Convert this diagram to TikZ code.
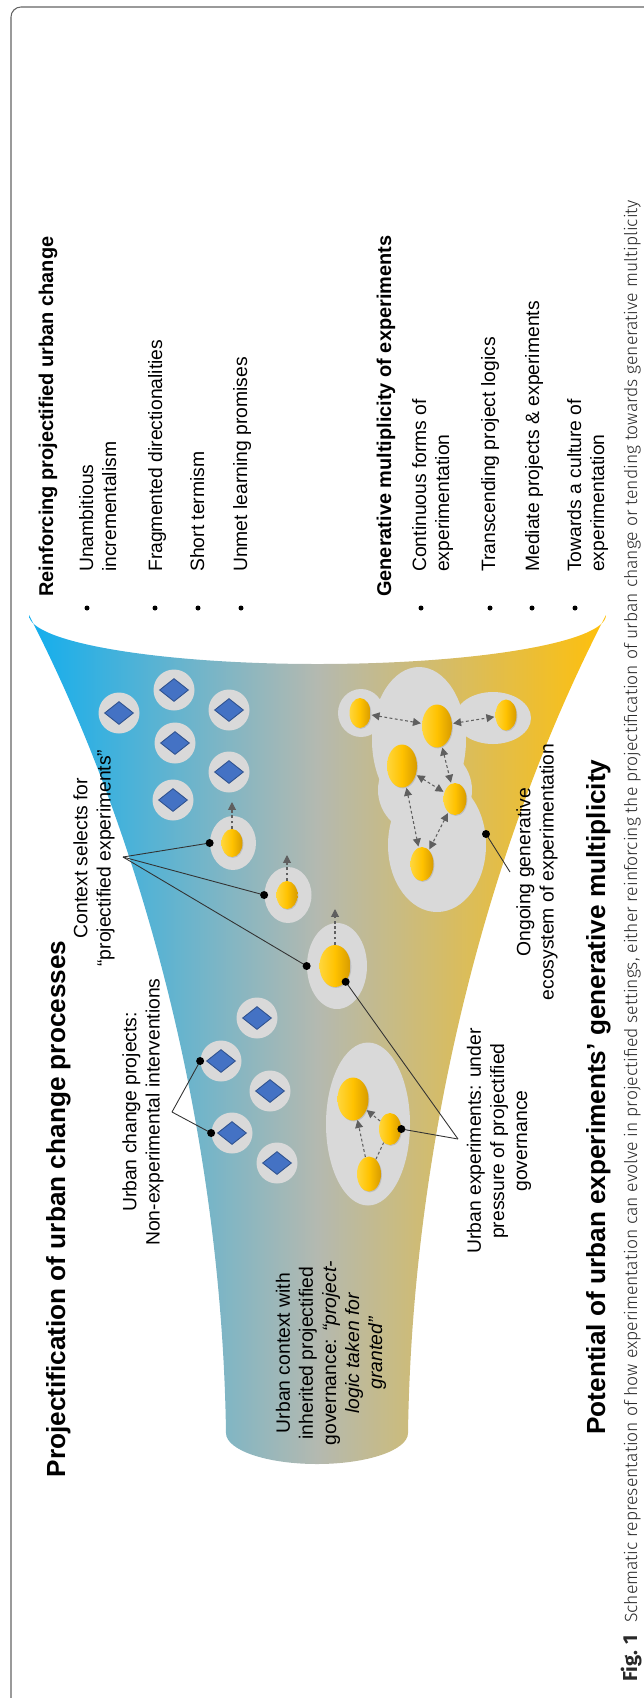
\documentclass[tikz,border=0pt]{standalone}
\usepackage{fontspec}
\setmainfont{Liberation Sans}
\newfontfamily\capfont{Fira Sans Light}
\newfontfamily\capbold{Fira Sans}
\usetikzlibrary{positioning,arrows.meta,shapes.geometric,shadows}

\definecolor{funblue}{RGB}{18,174,238}
\definecolor{funmid}{RGB}{180,185,176}
\definecolor{funorange}{RGB}{255,192,10}
\definecolor{halogray}{RGB}{217,217,217}
\definecolor{projblue}{RGB}{68,114,196}
\definecolor{projline}{RGB}{47,82,143}
\definecolor{expl}{RGB}{255,214,60}
\definecolor{expm}{RGB}{255,194,0}
\definecolor{expr}{RGB}{215,155,0}
\definecolor{flowgray}{RGB}{95,95,95}
\definecolor{ptrgray}{RGB}{50,50,50}
\definecolor{framegray}{RGB}{100,100,100}
\definecolor{capgray}{RGB}{40,40,40}

\begin{document}
\begin{tikzpicture}[x=0.02cm,y=-0.02cm,
    halo/.style={circle,fill=halogray,minimum size=41*0.02cm,inner sep=0},
    haloe/.style 2 args={ellipse,fill=halogray,minimum width=#1*0.02cm,minimum height=#2*0.02cm,inner sep=0},
    proj/.style={diamond,draw=projline,fill=projblue,line width=0.5pt,minimum width=29*0.02cm,minimum height=23*0.02cm,inner sep=0},
    expt/.style 2 args={ellipse,left color=expl,right color=expr,middle color=expm,minimum width=#1*0.02cm,minimum height=#2*0.02cm,inner sep=0,
        drop shadow={shadow xshift=0.5pt,shadow yshift=-0.5pt,opacity=0.3}},
    flowline/.style={draw=flowgray,line width=0.6pt,dash pattern=on 1.6pt off 1.4pt},
    flowarr/.style={flowline,-{Triangle[length=4.5pt,width=4.5pt]}},
    flowtwo/.style={flowline,{Triangle[length=4.5pt,width=4.5pt]}-{Triangle[length=4.5pt,width=4.5pt]},shorten <=0.5pt,shorten >=0.5pt},
    ptr/.style={draw=ptrgray,line width=0.5pt},
    pdot/.style={circle,fill=black,minimum size=8*0.02cm,inner sep=0},
    bul/.style={circle,fill=black,minimum size=5*0.02cm,inner sep=0},
    lbl/.style={rotate=90,align=center,font=\fontsize{11}{13.1}\selectfont},
    bitem/.style={rotate=90,anchor=base west,font=\fontsize{11}{13.1}\selectfont},
    bhead/.style={rotate=90,anchor=base west,font=\fontsize{11.35}{14}\selectfont\bfseries},
    ttl/.style={rotate=90,anchor=base,font=\fontsize{14.9}{18}\selectfont\bfseries}]

    \useasboundingbox (0,0) rectangle (643,1698);

    % Frame
    \draw[framegray,line width=0.6pt,rounded corners=0.2cm] (11,1740) -- (11,7) -- (720,7);

    % Funnel
    \shade[left color=funblue,right color=funorange,middle color=funmid]
        (29,615) arc[start angle=180,end angle=0,x radius=288.5,y radius=49]
        .. controls (484,850) and (412,1150) .. (408,1433)
        arc[start angle=0,end angle=180,x radius=91,y radius=31]
        .. controls (222,1150) and (150,850) .. (29,615) -- cycle;

    % Urban change projects
    \foreach \x/\y [count=\i] in {119/713,174/690,229/710,175/743,229/772,173/800,
                                   257/1018,221/1061,270/1091,232/1133,277/1163}{
        \node[halo] (ph\i) at (\x,\y) {};
        \node[proj] (pj\i) at (\x,\y) {};
    }

    % Projectified experiments
    \node[haloe={46}{54}] (haloA) at (233,843) {};
    \node[haloe={47}{56}] (haloB) at (288,895) {};
    \node[haloe={60}{86}] (haloC) at (337,966) {};
    \node[expt={21}{28}] (a) at (232,843) {};
    \node[expt={21}{28}] (b) at (287,895) {};
    \node[expt={31}{42}] (c) at (335,966) {};
    \coordinate (aup) at (232,802);
    \coordinate (bup) at (287,855);
    \coordinate (cup) at (335,909);
    \draw[flowarr] (a) -- (aup);
    \draw[flowarr] (b) -- (bup);
    \draw[flowarr] (c) -- (cup);

    % Experiments under pressure
    \node[haloe={84}{163}] (haloP) at (368,1124) {};
    \node[expt={31}{43}] (p1) at (353,1099) {};
    \node[expt={22}{32}] (p2) at (390,1129) {};
    \node[expt={24}{35}] (p3) at (369,1174) {};
    \draw[flowarr] (p3) -- (p1);
    \draw[flowarr] (p2) -- (p1);
    \draw[flowline] (p3) -- (p2);

    % Generative ecosystem
    \fill[halogray] (419,740) ellipse[x radius=47,y radius=73];
    \fill[halogray] (425,790) ellipse[x radius=47,y radius=45];
    \fill[halogray] (437,845) ellipse[x radius=49,y radius=67];
    \fill[halogray] (361,713) ellipse[x radius=23,y radius=24];
    \fill[halogray] (493,718) ellipse[x radius=38,y radius=26];
    \node[expt={21}{30}] (e1) at (360,713) {};
    \node[expt={30}{43}] (e2) at (437,726) {};
    \node[expt={21}{31}] (e3) at (506,715) {};
    \node[expt={30}{43}] (e4) at (402,766) {};
    \node[expt={23}{32}] (e5) at (455,799) {};
    \node[expt={23}{34}] (e6) at (422,864) {};
    \draw[flowtwo] (e1) -- (e2);
    \draw[flowtwo] (e2) -- (e3);
    \draw[flowtwo] (e2) -- (e5);
    \draw[flowtwo] (e4) -- (e5);
    \draw[flowtwo] (e4) -- (e6);
    \draw[flowtwo] (e5) -- (e6);

    % Pointers
    \coordinate (ctxpt) at (123,857);
    \coordinate (ucppt) at (172,1112);
    \coordinate (uexpt) at (458,1139);
    \coordinate (ecopt) at (510,872);
    \coordinate (ecodot) at (486,834);
    \draw[ptr] (ctxpt) -- (haloA.west);
    \draw[ptr] (ctxpt) -- (haloB.west);
    \draw[ptr] (ctxpt) -- (haloC.west);
    \draw[ptr] (ucppt) -- (ph8.west);
    \draw[ptr] (ucppt) -- (ph10.west);
    \draw[ptr] (uexpt) -- (c.-56);
    \draw[ptr] (uexpt) -- (p2.east);
    \draw[ptr] (ecopt) -- (ecodot);
    \node[pdot] (dA) at (haloA.west) {};
    \node[pdot] (dB) at (haloB.west) {};
    \node[pdot] (dC) at (haloC.west) {};
    \node[pdot] (d8) at (ph8.west) {};
    \node[pdot] (d10) at (ph10.west) {};
    \node[pdot] (dc) at (c.-56) {};
    \node[pdot] (dp) at (p2.east) {};
    \node[pdot] (de) at (ecodot) {};

    % Labels in the funnel
    \node[lbl] (ctx) at (94,858) {Context selects for\\``projectified experiments''};
    \node[lbl] (ucp) at (143,1112) {Urban change projects:\\Non-experimental interventions};
    \node[lbl] (uctx) at (331,1353) {Urban context with\\inherited projectified\\governance: \textit{``project-}\\\textit{logic taken for}\\\textit{granted''}};
    \node[lbl] (uexp) at (499,1141) {Urban experiments: under\\pressure of projectified\\governance};
    \node[lbl] (eco) at (537,872) {Ongoing generative\\ecosystem of experimentation};

    % Titles
    \node[ttl] (title) at (65,1209) {Projectification of urban change processes};
    \node[ttl] (pot) at (605,1097) {Potential of urban experiments’ generative multiplicity};

    % Outcome lists
    \node[bhead] (rhead) at (53,603) {Reinforcing projectified urban change};
    \node[bitem] (r1) at (93,578) {Unambitious};
    \node[bitem] (r1b) at (116,578) {incrementalism};
    \node[bitem] (r2) at (162,578) {Fragmented directionalities};
    \node[bitem] (r3) at (204,578) {Short termism};
    \node[bitem] (r4) at (247,578) {Unmet learning promises};
    \node[bhead] (ghead) at (391,603) {Generative multiplicity of experiments};
    \node[bitem] (g1) at (426,578) {Continuous forms of};
    \node[bitem] (g1b) at (449,578) {experimentation};
    \node[bitem] (g2) at (495,578) {Transcending project logics};
    \node[bitem] (g3) at (539,578) {Mediate projects \& experiments};
    \node[bitem] (g4) at (581,578) {Towards a culture of};
    \node[bitem] (g4b) at (604,578) {experimentation};
    \foreach \x [count=\i] in {87,155,198,241,421,490,532,575}
        \node[bul] (bu\i) at (\x,608) {};

    % Caption
    \node[rotate=90,anchor=base west,text=capgray,font=\capfont\fontsize{10}{12}\selectfont] (cap) at (637,1688)
        {{\capbold\bfseries\fontsize{11.5}{12}\selectfont Fig. 1}\hspace{0.7em}Schematic representation of how experimentation can evolve in projectified settings, either reinforcing the projectification of urban change or tending towards generative multiplicity};
\end{tikzpicture}
\end{document}
